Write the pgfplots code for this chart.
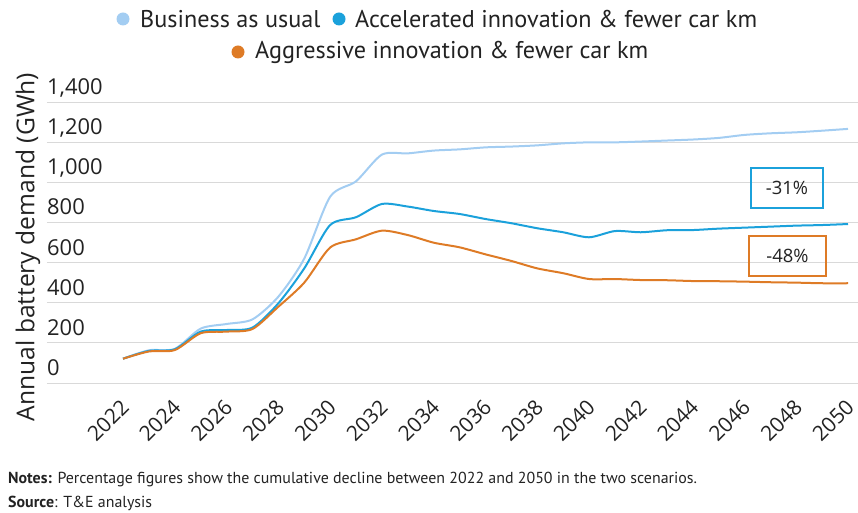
\documentclass[border=0pt]{standalone}
\usepackage{fontspec}
\setmainfont{PT Sans}
\newfontfamily\osans{Open Sans}
\usepackage{pgfplots}
\pgfplotsset{compat=1.18}
\usepackage{pgfplotstable}

\definecolor{bau}{HTML}{A3CDF2}
\definecolor{acc}{HTML}{1BA1DB}
\definecolor{agg}{HTML}{DE7B26}
\definecolor{gridgray}{HTML}{D9D9D9}
\definecolor{txt}{HTML}{222222}

% annual battery demand, GWh
\pgfplotstableread{
year bau  acc agg
2022 121  121 121
2023 163  160 157
2024 170  168 164
2025 271  256 248
2026 294  264 256
2027 317  276 269
2028 430  397 380
2029 620  571 500
2030 928  787 675
2031 1005 826 716
2032 1138 892 759
2033 1144 879 737
2034 1158 857 699
2035 1164 842 676
2036 1174 817 641
2037 1178 796 608
2038 1184 771 571
2039 1194 751 547
2040 1199 726 518
2041 1199 757 518
2042 1203 751 513
2043 1208 761 512
2044 1213 762 508
2045 1221 769 507
2046 1236 774 505
2047 1244 779 502
2048 1249 784 500
2049 1257 787 497
2050 1266 792 497
}\demand

\begin{document}
\begin{tikzpicture}
\path[use as bounding box] (-47bp,-130bp) rectangle (811bp,383bp);
\begin{axis}[
  at={(0,0)}, anchor=south west,
  scale only axis, width=811bp, height=281bp,
  xmin=2019.065, xmax=2050.386, ymin=0, ymax=1400,
  axis line style={draw=none},
  major tick length=0pt,
  xtick={2022,2024,...,2050},
  ytick={0,200,...,1400},
  ymajorgrids, grid style={draw=gridgray, line width=0.9bp},
  /pgf/number format/assume math mode=true,
  xticklabel style={font=\osans\fontsize{21}{21}\selectfont, text=txt,
    xshift=-3.5bp, yshift=-15bp, rotate=45, anchor=north east, inner sep=0pt,
    /pgf/number format/1000 sep={}},
  yticklabel style={font=\osans\fontsize{22}{22}\selectfont, text=txt,
    anchor=base west, inner sep=0pt, yshift=7.5bp,
    /pgf/number format/1000 sep={,}},
  ylabel={Annual battery demand (GWh)},
  ylabel style={at={(axis description cs:-0.0234,0.484)}, anchor=center,
    font=\osans\fontsize{24.7}{24.7}\selectfont, text=txt},
  clip=false,
]
\addplot[bau, line width=2bp, smooth, tension=0.45] table[x=year, y=bau] {\demand};
\addplot[acc, line width=2bp, smooth, tension=0.45] table[x=year, y=acc] {\demand};
\addplot[agg, line width=2bp, smooth, tension=0.45] table[x=year, y=agg] {\demand};

\node[draw=acc, line width=1.5bp, minimum width=72bp, minimum height=40bp,
  text=txt, font=\osans\fontsize{18.5}{20}\selectfont] at (axis cs:2047.64,972) {-31\%};
\node[draw=agg, line width=1.5bp, minimum width=77bp, minimum height=40bp,
  text=txt, font=\osans\fontsize{18.5}{20}\selectfont] at (axis cs:2047.66,633) {-48\%};
\end{axis}

% legend
\begin{scope}[every node/.style={anchor=west, inner sep=0pt, text=txt,
    font=\fontsize{24.3}{26}\selectfont}]
\fill[bau] (76bp,364bp) circle (6.5bp);
\node at (93bp,364bp) {Business as usual};
\fill[acc] (292bp,364bp) circle (6.5bp);
\node at (308bp,364bp) {Accelerated innovation \& fewer car km};
\fill[agg] (191bp,331bp) circle (6.5bp);
\node at (208bp,331bp) {Aggressive innovation \& fewer car km};
\end{scope}

% notes
\node[anchor=base west, inner sep=0pt, text=txt, font=\fontsize{16}{18}\selectfont]
  at (-39bp,-100bp) {\textbf{Notes:} Percentage figures show the cumulative decline between 2022 and 2050 in the two scenarios.};
\node[anchor=base west, inner sep=0pt, text=txt, font=\fontsize{16}{18}\selectfont]
  at (-39bp,-124bp) {\textbf{Source}: T\&E analysis};
\end{tikzpicture}
\end{document}
